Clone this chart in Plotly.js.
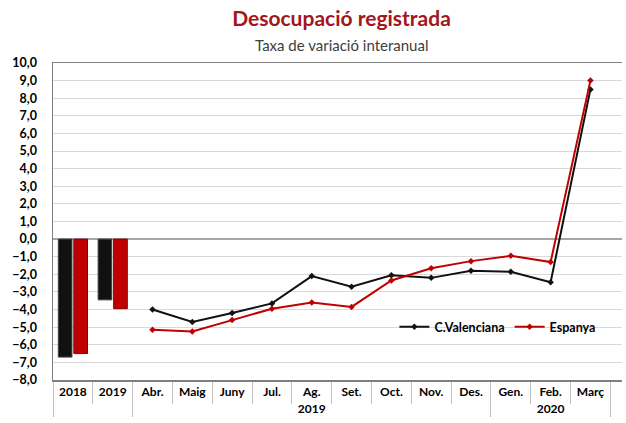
<!DOCTYPE html>
<html>
<head>
<meta charset="utf-8">
<script src="https://cdn.plot.ly/plotly-3.0.1.min.js"></script>
<style>html,body{margin:0;padding:0;background:#fff;}#chart{width:626px;height:423px;}</style>
</head>
<body>
<div id="chart"></div>
<script>
// Annual bars
const barParents = [" ", " "];
const barCats = ["2018", "2019"];
const barCV = [-6.7, -3.45];
const barES = [-6.5, -3.95];

// Monthly lines
const monthParents = ["2019","2019","2019","2019","2019","2019","2019","2019","2019","2020","2020","2020"];
const months = ["Abr.","Maig","Juny","Jul.","Ag.","Set.","Oct.","Nov.","Des.","Gen.","Feb.","Març"];
const lineCV = [-4.0, -4.7, -4.2, -3.65, -2.1, -2.7, -2.05, -2.2, -1.8, -1.85, -2.45, 8.5];
const lineES = [-5.15, -5.25, -4.6, -3.95, -3.6, -3.85, -2.35, -1.65, -1.25, -0.95, -1.3, 9.0];

const seriesNames = ["C.Valenciana", "Espanya"];
const colCV = "#111111";
const colES = "#c00000";

const FONT = "Lato, 'Open Sans', sans-serif";

const traces = [
  {type: "bar", x: [barParents, barCats], y: barCV, name: seriesNames[0], showlegend: false,
   marker: {color: colCV, line: {color: "#444", width: 1}}},
  {type: "bar", x: [barParents, barCats], y: barES, name: seriesNames[1], showlegend: false,
   marker: {color: colES, line: {color: "#8a0000", width: 1}}},
  {type: "scatter", mode: "lines+markers", x: [monthParents, months], y: lineCV, name: seriesNames[0],
   line: {color: colCV, width: 2}, marker: {color: colCV, size: 5, symbol: "diamond"}},
  {type: "scatter", mode: "lines+markers", x: [monthParents, months], y: lineES, name: seriesNames[1],
   line: {color: colES, width: 2}, marker: {color: colES, size: 5, symbol: "diamond"}}
];

const layout = {
  width: 626, height: 423,
  margin: {l: 53, r: 4, t: 63, b: 43},
  paper_bgcolor: "#fff", plot_bgcolor: "#fff",
  separators: ",.",
  barmode: "group", bargap: 0.22, bargroupgap: 0.12,
  font: {family: FONT, color: "#000"},
  title: {text: "<b>Desocupació registrada</b>", x: 0.507, xref: "paper", xanchor: "center",
          y: 0.957, yanchor: "middle", font: {family: FONT, size: 21, color: "#a3161c"}},
  annotations: [
    {text: "Taxa de variació interanual", xref: "paper", yref: "paper", x: 0.507, y: 1.057,
     xanchor: "center", yanchor: "middle", showarrow: false,
     font: {family: FONT, size: 15, color: "#404040"}}
  ],
  xaxis: {
    type: "multicategory",
    showline: true, linecolor: "#7f7f7f", linewidth: 1.5, mirror: true,
    ticks: "outside", tickson: "boundaries", ticklen: 22, tickcolor: "#bfbfbf",
    showdividers: true, dividercolor: "#bfbfbf", dividerwidth: 1,
    tickfont: {family: FONT, size: 12, color: "#000", weight: "bold"},
    showgrid: false, fixedrange: true
  },
  yaxis: {
    range: [-8, 10], dtick: 1, tickformat: ".1f",
    showline: true, linecolor: "#7f7f7f", linewidth: 1.5,
    gridcolor: "#d9d9d9", gridwidth: 1,
    zeroline: true, zerolinecolor: "#a6a6a6", zerolinewidth: 1.5,
    ticks: "", ticklabelstandoff: 12,
    tickfont: {family: FONT, size: 12.5, color: "#000", weight: "bold"},
    fixedrange: true
  },
  legend: {orientation: "h", x: 0.6, y: 0.167, xanchor: "left", yanchor: "middle",
           bgcolor: "rgba(255,255,255,0)", font: {family: FONT, size: 12.5, weight: "bold"},
           traceorder: "normal"},
  showlegend: true
};

Plotly.newPlot("chart", traces, layout, {displayModeBar: false, staticPlot: true});
</script>
</body>
</html>
